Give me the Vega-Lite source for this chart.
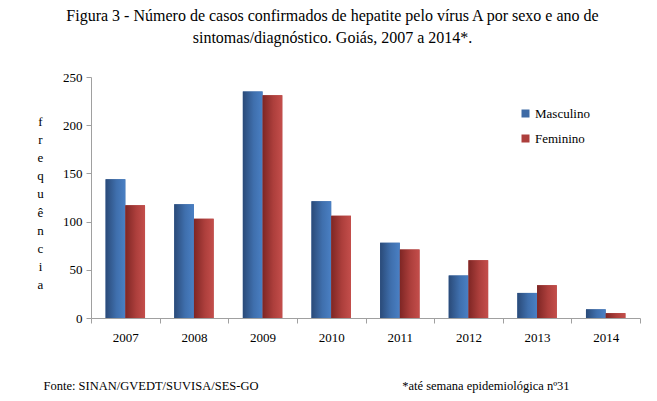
{
  "$schema": "https://vega.github.io/schema/vega-lite/v6.json",
  "autosize": {"type": "none"},
  "width": 549,
  "height": 241,
  "padding": {"left": 91, "top": 77, "right": 17, "bottom": 83},
  "background": "white",
  "title": {
    "text": ["Figura 3 - Número de casos confirmados de hepatite pelo vírus A por sexo e ano de", "sintomas/diagnóstico. Goiás, 2007 a 2014*."],
    "font": "Liberation Serif",
    "fontSize": 16,
    "fontWeight": "normal",
    "color": "black",
    "anchor": "middle",
    "frame": "group",
    "dx": -33,
    "offset": 25,
    "lineHeight": 22
  },
  "data": {
    "values": [
      {"ano": "2007", "sexo": "Masculino", "casos": 144},
      {"ano": "2007", "sexo": "Feminino", "casos": 117},
      {"ano": "2008", "sexo": "Masculino", "casos": 118},
      {"ano": "2008", "sexo": "Feminino", "casos": 103},
      {"ano": "2009", "sexo": "Masculino", "casos": 235},
      {"ano": "2009", "sexo": "Feminino", "casos": 231},
      {"ano": "2010", "sexo": "Masculino", "casos": 121},
      {"ano": "2010", "sexo": "Feminino", "casos": 106},
      {"ano": "2011", "sexo": "Masculino", "casos": 78},
      {"ano": "2011", "sexo": "Feminino", "casos": 71},
      {"ano": "2012", "sexo": "Masculino", "casos": 44},
      {"ano": "2012", "sexo": "Feminino", "casos": 60},
      {"ano": "2013", "sexo": "Masculino", "casos": 26},
      {"ano": "2013", "sexo": "Feminino", "casos": 34},
      {"ano": "2014", "sexo": "Masculino", "casos": 9},
      {"ano": "2014", "sexo": "Feminino", "casos": 5}
    ]
  },
  "encoding": {
    "x": {
      "field": "ano",
      "type": "nominal",
      "scale": {"paddingInner": 0, "paddingOuter": 0},
      "axis": {
        "title": "Fonte: SINAN/GVEDT/SUVISA/SES-GO\u00a0\u00a0\u00a0\u00a0\u00a0\u00a0\u00a0\u00a0\u00a0\u00a0\u00a0\u00a0\u00a0\u00a0\u00a0\u00a0\u00a0\u00a0\u00a0\u00a0\u00a0\u00a0\u00a0\u00a0\u00a0\u00a0\u00a0\u00a0\u00a0\u00a0\u00a0\u00a0\u00a0\u00a0\u00a0\u00a0\u00a0\u00a0\u00a0\u00a0\u00a0\u00a0\u00a0\u00a0\u00a0\u00a0*até semana epidemiológica nº31",
        "titleFont": "Liberation Serif",
        "titleFontSize": 12.5,
        "titleFontWeight": "normal",
        "titleColor": "black",
        "titleAnchor": "start",
        "titleAlign": "left",
        "titleX": -48,
        "titleY": 61,
        "labelAngle": 0,
        "labelFont": "Liberation Serif",
        "labelFontSize": 13,
        "labelColor": "black",
        "labelPadding": 8,
        "tickBand": "extent",
        "tickSize": 5,
        "tickColor": "#a0a0a0",
        "domainColor": "#a0a0a0"
      }
    },
    "xOffset": {
      "field": "sexo",
      "type": "nominal",
      "sort": ["Masculino", "Feminino"],
      "scale": {"paddingInner": 0, "paddingOuter": 0.74}
    },
    "y": {
      "field": "casos",
      "type": "quantitative",
      "scale": {"domain": [0, 250]},
      "axis": {
        "values": [0, 50, 100, 150, 200, 250],
        "grid": false,
        "title": ["f", "r", "e", "q", "u", "ê", "n", "c", "i", "a"],
        "titleAngle": 0,
        "titleX": -51,
        "titleY": 44,
        "titleAlign": "center",
        "titleBaseline": "middle",
        "titleLineHeight": 18.2,
        "titleFont": "Liberation Serif",
        "titleFontSize": 13,
        "titleFontWeight": "normal",
        "titleColor": "black",
        "labelFont": "Liberation Serif",
        "labelFontSize": 13,
        "labelColor": "black",
        "labelPadding": 4,
        "tickSize": 5,
        "tickColor": "#a0a0a0",
        "domainColor": "#a0a0a0"
      }
    }
  },
  "layer": [
    {
      "mark": {"type": "bar", "stroke": null},
      "encoding": {
        "color": {
          "field": "sexo",
          "type": "nominal",
          "sort": ["Masculino", "Feminino"],
          "scale": {"domain": ["Masculino", "Feminino"], "range": ["#3d6aa5", "#ad3f3c"]},
          "legend": {
            "title": null,
            "orient": "none",
            "legendX": 428,
            "legendY": 30,
            "symbolType": "square",
            "symbolSize": 64,
            "symbolStrokeWidth": 0,
            "symbolOpacity": 1,
            "labelFont": "Liberation Serif",
            "labelFontSize": 13,
            "labelColor": "black",
            "labelOffset": 3,
            "rowPadding": 11
          }
        }
      }
    },
    {
      "mark": {"type": "bar", "stroke": null},
      "encoding": {
        "fill": {
          "condition": {
            "test": "datum.sexo === 'Masculino'",
            "value": {"gradient": "linear", "x1": 0, "y1": 0, "x2": 1, "y2": 0, "stops": [{"offset": 0, "color": "#2a4a78"}, {"offset": 0.55, "color": "#3f6fad"}, {"offset": 1, "color": "#4a80c4"}]}
          },
          "value": {"gradient": "linear", "x1": 0, "y1": 0, "x2": 1, "y2": 0, "stops": [{"offset": 0, "color": "#7e2624"}, {"offset": 0.55, "color": "#ad3f3c"}, {"offset": 1, "color": "#c44e4b"}]}
        }
      }
    }
  ],
  "config": {"view": {"stroke": null}}
}
